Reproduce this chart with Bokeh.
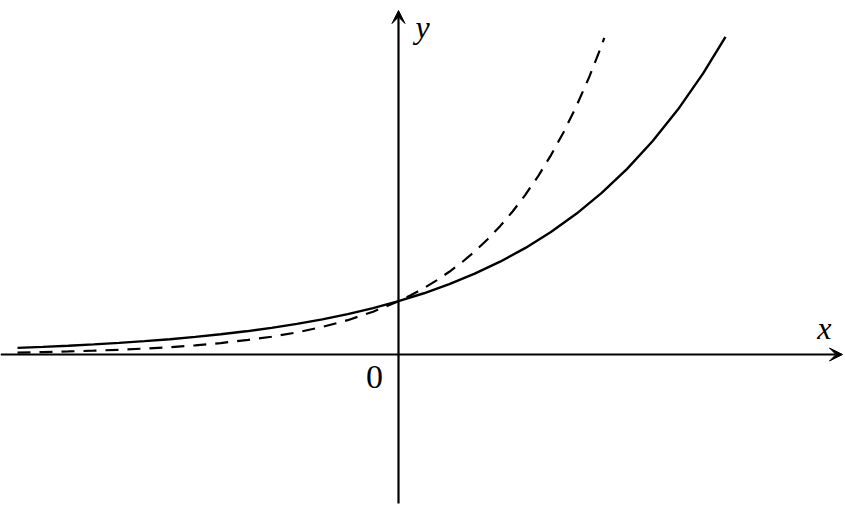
from bokeh.plotting import figure
from bokeh.models import Range1d, Arrow, VeeHead
from bokeh.core.properties import value
from bokeh.embed import file_html
from bokeh.resources import INLINE

# solid curve
x_solid = [-3.0, -2.8, -2.6, -2.4, -2.2, -2.0, -1.8, -1.6, -1.4, -1.2, -1.0,
           -0.8, -0.6, -0.4, -0.2, 0.0, 0.2, 0.4, 0.6, 0.8, 1.0, 1.2, 1.4,
           1.6, 1.8, 2.0, 2.2, 2.4, 2.575]
y_solid = [0.125, 0.144, 0.165, 0.189, 0.218, 0.250, 0.287, 0.330, 0.379,
           0.435, 0.500, 0.574, 0.660, 0.758, 0.871, 1.000, 1.149, 1.320,
           1.516, 1.741, 2.000, 2.297, 2.639, 3.031, 3.482, 4.000, 4.595,
           5.278, 5.960]

# dashed curve
x_dash = [-3.0, -2.8, -2.6, -2.4, -2.2, -2.0, -1.8, -1.6, -1.4, -1.2, -1.0,
          -0.8, -0.6, -0.4, -0.2, 0.0, 0.1, 0.2, 0.3, 0.4, 0.5, 0.6, 0.7,
          0.8, 0.9, 1.0, 1.1, 1.2, 1.3, 1.4, 1.5, 1.6, 1.62]
y_dash = [0.037, 0.046, 0.057, 0.072, 0.089, 0.111, 0.138, 0.172, 0.215,
          0.268, 0.333, 0.415, 0.517, 0.644, 0.803, 1.000, 1.116, 1.246,
          1.390, 1.552, 1.732, 1.933, 2.158, 2.408, 2.688, 3.000, 3.348,
          3.737, 4.171, 4.656, 5.196, 5.800, 5.940]

W, H = 845, 508
x0, ux = 398, 127.0   # origin pixel and unit (x)
y0, uy = 354, 53.3    # origin pixel and unit (y)

p = figure(width=W, height=H, output_backend="svg", toolbar_location=None,
           x_range=Range1d(-x0 / ux, (W - x0) / ux),
           y_range=Range1d(-(H - y0) / uy, y0 / uy),
           min_border=0)
p.axis.visible = False
p.grid.visible = False
p.outline_line_color = None
p.background_fill_color = "white"
p.border_fill_color = "white"

# axes with arrow heads
p.add_layout(Arrow(end=VeeHead(size=13, fill_color="black", line_color="black",
                               line_width=1),
                   x_start=-x0 / ux, y_start=0, x_end=(842 - x0) / ux, y_end=0,
                   line_width=2.2, line_color="black"))
p.add_layout(Arrow(end=VeeHead(size=13, fill_color="black", line_color="black",
                               line_width=1),
                   x_start=0, y_start=-(503 - y0) / uy, x_end=0, y_end=(y0 - 10) / uy,
                   line_width=2.2, line_color="black"))

p.line(x_solid, y_solid, line_width=2.4, line_color="black")
p.line(x_dash, y_dash, line_width=2.2, line_color="black", line_dash="13 9")

serif = value("Liberation Serif")
p.text(x=[3.354], y=[0.49], text=["x"], text_font=serif, text_font_size="32px",
       text_font_style="italic", text_align="center", text_baseline="alphabetic")
p.text(x=[0.189], y=[6.15], text=["y"], text_font=serif, text_font_size="32px",
       text_font_style="italic", text_align="center", text_baseline="alphabetic")
p.text(x=[-0.189], y=[-0.43], text=["0"], text_font=serif, text_font_size="34px",
       text_align="center", text_baseline="alphabetic")

open("out.html", "w").write(file_html(p, INLINE))
